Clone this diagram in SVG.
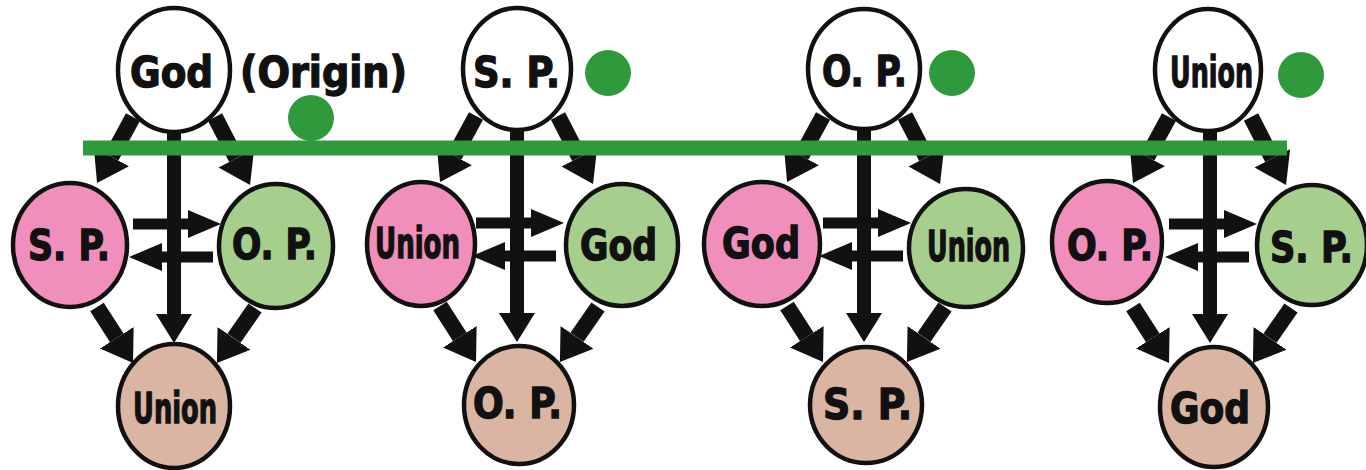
<svg xmlns="http://www.w3.org/2000/svg" xmlns:xlink="http://www.w3.org/1999/xlink" width="1366" height="470" viewBox="0 0 1366 470">
<style>
.n{stroke:#111;stroke-width:4.5}
.top{fill:#ffffff}
.pk{fill:#f08fbb}
.gr{fill:#a6cf8d}
.tn{fill:#d9b5a2}
.t{font-family:"Liberation Sans Narrow","DejaVu Sans Condensed","Liberation Sans",sans-serif;font-weight:bold;font-size:43px;fill:#111;stroke:#111;stroke-width:1.3}
.a{stroke:#111;stroke-width:16;fill:none}
.v{stroke:#111;stroke-width:14;fill:none}
.h{stroke:#111;stroke-width:11;fill:none}
.gl{stroke:#2f9a3c;stroke-width:15}
.dot{fill:#2f9a3c}
</style>
<defs>
<marker id="hd" markerUnits="userSpaceOnUse" markerWidth="44" markerHeight="44" viewBox="0 -22 44 44" refX="0" refY="0" orient="auto">
<path d="M0,-20 L30,0 L0,20 z" fill="#111"/>
</marker>
<marker id="hv" markerUnits="userSpaceOnUse" markerWidth="44" markerHeight="44" viewBox="0 -22 44 44" refX="0" refY="0" orient="auto">
<path d="M0,-18 L29,0 L0,18 z" fill="#111"/>
</marker>
<marker id="hh" markerUnits="userSpaceOnUse" markerWidth="40" markerHeight="40" viewBox="0 -20 40 40" refX="0" refY="0" orient="auto">
<path d="M0,-14 L33,0 L0,14 z" fill="#111"/>
</marker>
<g id="arrows">
<line class="a" x1="-41" y1="47" x2="-62.6" y2="86.7" marker-end="url(#hd)"/>
<line class="a" x1="41" y1="47" x2="62.3" y2="88.3" marker-end="url(#hd)"/>
<line class="v" x1="0" y1="62" x2="0" y2="244" marker-end="url(#hv)"/>
<line class="h" x1="-41" y1="154" x2="14" y2="154" marker-end="url(#hh)"/>
<line class="h" x1="39" y1="187" x2="-12" y2="187" marker-end="url(#hh)"/>
<line class="a" x1="-77" y1="237" x2="-57.2" y2="267.8" marker-end="url(#hd)"/>
<line class="a" x1="81" y1="238" x2="60" y2="268.3" marker-end="url(#hd)"/>
</g>
</defs>
<rect width="1366" height="470" fill="#ffffff"/>

<!-- Diagram 1 -->
<g id="d1-top"><ellipse class="n top" cx="174" cy="70" rx="56" ry="62"/><text class="t" x="130" y="87" textLength="83" lengthAdjust="spacingAndGlyphs">God</text></g>
<g id="d1-origin"><text class="t" x="240" y="87" textLength="167" lengthAdjust="spacingAndGlyphs">(Origin)</text></g>
<g id="d1-left"><ellipse class="n pk" cx="70" cy="245" rx="57" ry="62"/><text class="t" x="28" y="260" textLength="82" lengthAdjust="spacingAndGlyphs">S. P.</text></g>
<g id="d1-right"><ellipse class="n gr" cx="276" cy="246" rx="57" ry="62"/><text class="t" x="232" y="259" textLength="85" lengthAdjust="spacingAndGlyphs">O. P.</text></g>
<g id="d1-bottom"><ellipse class="n tn" cx="174" cy="406" rx="56" ry="62"/><text class="t" x="133" y="423" textLength="84" lengthAdjust="spacingAndGlyphs">Union</text></g>

<!-- Diagram 2 -->
<g id="d2-top"><ellipse class="n top" cx="517" cy="69" rx="54" ry="61"/><text class="t" x="473" y="87" textLength="87" lengthAdjust="spacingAndGlyphs">S. P.</text></g>
<g id="d2-left"><ellipse class="n pk" cx="421" cy="244" rx="54" ry="62"/><text class="t" x="375" y="258" textLength="85" lengthAdjust="spacingAndGlyphs">Union</text></g>
<g id="d2-right"><ellipse class="n gr" cx="622" cy="245" rx="56" ry="61"/><text class="t" x="580" y="260" textLength="77" lengthAdjust="spacingAndGlyphs">God</text></g>
<g id="d2-bottom"><ellipse class="n tn" cx="519" cy="405" rx="55" ry="59"/><text class="t" x="473" y="418" textLength="89" lengthAdjust="spacingAndGlyphs">O. P.</text></g>

<!-- Diagram 3 -->
<g id="d3-top"><ellipse class="n top" cx="864" cy="69" rx="56" ry="60"/><text class="t" x="822" y="86" textLength="85" lengthAdjust="spacingAndGlyphs">O. P.</text></g>
<g id="d3-left"><ellipse class="n pk" cx="762" cy="244" rx="58" ry="62"/><text class="t" x="722" y="258" textLength="78" lengthAdjust="spacingAndGlyphs">God</text></g>
<g id="d3-right"><ellipse class="n gr" cx="966" cy="248" rx="57" ry="59"/><text class="t" x="927" y="261" textLength="83" lengthAdjust="spacingAndGlyphs">Union</text></g>
<g id="d3-bottom"><ellipse class="n tn" cx="866" cy="405" rx="56" ry="58"/><text class="t" x="823" y="419" textLength="89" lengthAdjust="spacingAndGlyphs">S. P.</text></g>

<!-- Diagram 4 -->
<g id="d4-top"><ellipse class="n top" cx="1208" cy="70" rx="53" ry="61"/><text class="t" x="1170" y="87" textLength="83" lengthAdjust="spacingAndGlyphs">Union</text></g>
<g id="d4-left"><ellipse class="n pk" cx="1107" cy="242" rx="55" ry="61"/><text class="t" x="1067" y="260" textLength="86" lengthAdjust="spacingAndGlyphs">O. P.</text></g>
<g id="d4-right"><ellipse class="n gr" cx="1312" cy="245" rx="55" ry="60"/><text class="t" x="1270" y="262" textLength="83" lengthAdjust="spacingAndGlyphs">S. P.</text></g>
<g id="d4-bottom"><ellipse class="n tn" cx="1214" cy="407" rx="54" ry="60"/><text class="t" x="1170" y="423" textLength="80" lengthAdjust="spacingAndGlyphs">God</text></g>

<g id="connectors">
<use xlink:href="#arrows" href="#arrows" transform="translate(174,70)"/>
<use xlink:href="#arrows" href="#arrows" transform="translate(517,69)"/>
<use xlink:href="#arrows" href="#arrows" transform="translate(864,69)"/>
<use xlink:href="#arrows" href="#arrows" transform="translate(1210,70)"/>
</g>

<g id="green-marks">
<line class="gl" x1="83" y1="148" x2="1287" y2="148"/>
<circle class="dot" cx="311" cy="118" r="23"/>
<circle class="dot" cx="608" cy="73" r="23"/>
<circle class="dot" cx="952" cy="73" r="23"/>
<circle class="dot" cx="1301" cy="75" r="23"/>
</g>
</svg>
